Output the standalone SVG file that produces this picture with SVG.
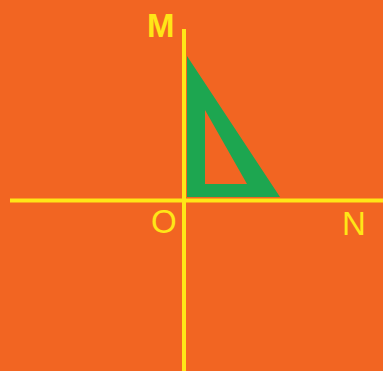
<svg xmlns="http://www.w3.org/2000/svg" width="383" height="371" viewBox="0 0 383 371">
<style>
.axis{stroke:#FFE617;stroke-width:4;fill:none}
.lbl{fill:#FFE617;font-family:"Liberation Sans",Arial,sans-serif;font-size:33px}
</style>
<rect width="383" height="371" fill="#F26522"/>
<g id="triangle">
<path d="M187,56 L187,197 L280,197 Z M205,110 L205,184 L247,184 Z" fill="#1DA650" fill-rule="evenodd"/>
</g>
<g id="axes">
<line class="axis" x1="10" y1="200.5" x2="383" y2="200.5"/>
<line class="axis" x1="184" y1="29" x2="184" y2="371"/>
</g>
<g id="labels">
<text class="lbl" x="147" y="37" font-weight="bold">M</text>
<text class="lbl" x="151" y="233">O</text>
<text class="lbl" x="342" y="235">N</text>
</g>
</svg>
